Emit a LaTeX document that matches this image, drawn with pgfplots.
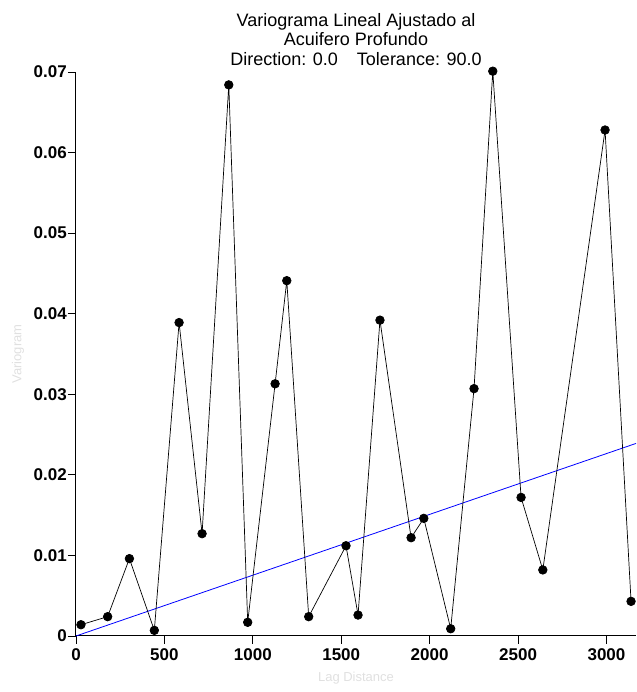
\documentclass[border=0pt]{standalone}
\usepackage{fontspec}
\setmainfont{Liberation Sans}
\usepackage{pgfplots}
\pgfplotsset{compat=1.18}
\definecolor{lightlab}{RGB}{224,224,224}

\pgfplotstableread{
x y
28 0.0014
179 0.0024
302 0.0096
443 0.0007
583 0.0389
713 0.0127
864 0.0684
971 0.0017
1126 0.0313
1192 0.0441
1316 0.0024
1527 0.0112
1595 0.0026
1719 0.0392
1895 0.0122
1967 0.0146
2119 0.0009
2251 0.0307
2357 0.0701
2517 0.0172
2640 0.0082
2992 0.0628
3139 0.0043
}\expdata

\begin{document}
\begin{tikzpicture}
\path[use as bounding box] (-76pt,-56pt) rectangle (560pt,636pt);
\begin{axis}[
  at={(0,0)}, anchor=south west,
  scale only axis, width=560pt, height=564pt,
  xmin=0, xmax=3167, ymin=0, ymax=0.07,
  axis lines=left, axis line style={-, line width=1pt},
  clip=false,
  xtick={0,500,...,3000}, ytick={0,0.01,...,0.07},
  tick align=outside, major tick length=8pt,
  tick style={black, line width=0.8pt},
  scaled y ticks=false,
  /pgf/number format/assume math mode=true,
  yticklabel style={/pgf/number format/fixed, /pgf/number format/precision=2,
    font=\fontsize{17}{17}\selectfont\bfseries, inner sep=1pt},
  xticklabel style={/pgf/number format/set thousands separator={},
    font=\fontsize{17}{17}\selectfont\bfseries, inner sep=1pt, yshift=-3pt},
  xlabel={Lag Distance}, ylabel={Variogram},
  label style={font=\fontsize{13}{13}\selectfont, text=lightlab},
  xlabel style={at={(axis description cs:0.5,0)}, anchor=center, yshift=-42pt},
  ylabel style={at={(axis description cs:0,0.5)}, anchor=center, rotate=0, xshift=0pt, yshift=58pt},
  title={Variograma Lineal Ajustado al\\Acuifero Profundo\\Direction: 0.0\hspace{19pt}Tolerance: 90.0},
  title style={font=\fontsize{18}{19.5}\selectfont, align=center, at={(axis description cs:0.5,1)}, anchor=south, yshift=-3pt},
]
\addplot[blue, line width=0.8pt] coordinates {(0,0) (3167,0.0239)};
\addplot[black, line width=0.7pt, mark=*, mark size=4.3pt, mark options={fill=black}] table[x=x,y=y] {\expdata};
\end{axis}
\end{tikzpicture}
\end{document}
